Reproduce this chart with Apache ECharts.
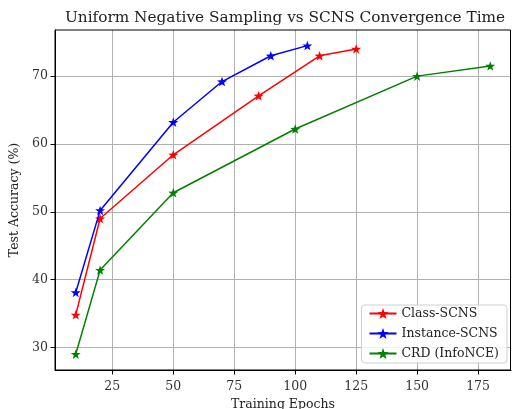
<!DOCTYPE html>
<html>
<head>
<meta charset="utf-8">
<script src="https://cdn.jsdelivr.net/npm/echarts@6/dist/echarts.min.js"></script>
<style>
  html, body { margin: 0; padding: 0; background: #fff; }
  #chart { width: 512px; height: 409px; }
</style>
</head>
<body>
<div id="chart"></div>
<script>
// Training epochs and test accuracy for each sampling strategy
const classEpochs = [10, 20, 50, 85, 110, 125];
const classAcc = [34.8, 49.0, 58.4, 67.1, 73.0, 74.0];

const instanceEpochs = [10, 20, 50, 70, 90, 105];
const instanceAcc = [38.1, 50.2, 63.2, 69.2, 73.0, 74.5];

const crdEpochs = [10, 20, 50, 100, 150, 180];
const crdAcc = [29.0, 41.4, 52.8, 62.2, 70.0, 71.5];

const xTicks = [25, 50, 75, 100, 125, 150, 175];
const yTicks = [30, 40, 50, 60, 70];

const seriesNames = ['Class-SCNS', 'Instance-SCNS', 'CRD (InfoNCE)'];
const seriesColors = ['#ff0000', '#0000ff', '#008000'];

const FONT = 'DejaVu Serif';
const BASE = 12.5;
const STAR = 'path://M0,-10 L2.35,-3.24 L9.51,-3.09 L3.8,1.24 L5.88,8.09 L0,4 L-5.88,8.09 L-3.8,1.24 L-9.51,-3.09 L-2.35,-3.24 Z';

function pairs(xs, ys) {
  return xs.map((x, i) => [x, ys[i]]);
}

const seriesData = [
  pairs(classEpochs, classAcc),
  pairs(instanceEpochs, instanceAcc),
  pairs(crdEpochs, crdAcc)
];

const chart = echarts.init(document.getElementById('chart'), null, { renderer: 'canvas' });

chart.setOption({
  animation: false,
  backgroundColor: '#ffffff',
  title: {
    text: 'Uniform Negative Sampling vs SCNS Convergence Time',
    left: 280,
    textAlign: 'center',
    top: 6,
    textStyle: { fontFamily: FONT, fontSize: 15.3, fontWeight: 'normal', color: '#222' }
  },
  grid: { left: 55, right: 1, top: 30, bottom: 39, containLabel: false, outerBoundsMode: 'none' },
  xAxis: {
    type: 'value',
    min: 1.5,
    max: 188.5,
    name: 'Training Epochs',
    nameLocation: 'middle',
    nameGap: 26,
    nameTextStyle: { fontFamily: FONT, fontSize: BASE, color: '#222' },
    axisLine: { show: true, onZero: false, lineStyle: { color: '#000', width: 1 } },
    axisTick: { show: true, length: 4.5, customValues: xTicks, lineStyle: { color: '#000' } },
    axisLabel: { customValues: xTicks, fontFamily: FONT, fontSize: BASE, color: '#333', margin: 10 },
    splitLine: { show: true, lineStyle: { color: '#b0b0b0', width: 1 } }
  },
  yAxis: {
    type: 'value',
    min: 26.67,
    max: 76.8,
    name: 'Test Accuracy (%)',
    nameLocation: 'middle',
    nameGap: 31,
    nameTextStyle: { fontFamily: FONT, fontSize: BASE, color: '#222' },
    axisLine: { show: true, onZero: false, lineStyle: { color: '#000', width: 1 } },
    axisTick: { show: true, length: 4.5, customValues: yTicks, lineStyle: { color: '#000' } },
    axisLabel: { customValues: yTicks, fontFamily: FONT, fontSize: BASE, color: '#333', margin: 7 },
    splitLine: { show: true, lineStyle: { color: '#b0b0b0', width: 1 } }
  },
  legend: {
    orient: 'vertical',
    right: 5,
    bottom: 46,
    data: seriesNames,
    itemWidth: 27,
    itemHeight: 14,
    itemGap: 7,
    padding: [2, 8, 3, 7],
    backgroundColor: 'rgba(255,255,255,0.85)',
    borderColor: '#d0d0d0',
    borderWidth: 1,
    borderRadius: 3,
    textStyle: { fontFamily: FONT, fontSize: BASE, color: '#222' }
  },
  series: seriesNames.map((name, i) => ({
    name: name,
    type: 'line',
    data: seriesData[i],
    symbol: STAR,
    symbolSize: 10,
    symbolKeepAspect: true,
    lineStyle: { color: seriesColors[i], width: 1.5 },
    itemStyle: { color: seriesColors[i] },
    z: 3 + i
  }))
});

// Outer box of the plotting area (top and right edges)
const rect = chart.getModel().getComponent('grid').coordinateSystem.getRect();
chart.setOption({
  graphic: [{
    type: 'rect',
    shape: { x: rect.x, y: rect.y, width: rect.width - 0.5, height: rect.height },
    style: { fill: 'none', stroke: '#000', lineWidth: 1 },
    z: 10,
    silent: true
  }]
});
</script>
</body>
</html>
